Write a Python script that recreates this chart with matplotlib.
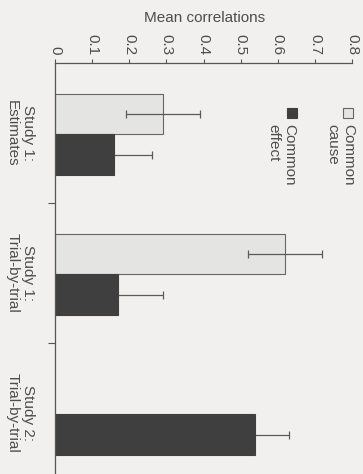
import numpy as np
import matplotlib
matplotlib.use("Agg")
import matplotlib.pyplot as plt
from matplotlib.patches import Rectangle

# -- Data --
categories = ["Study 1:\nEstimates", "Study 1:\nTrial-by-trial", "Study 2:\nTrial-by-trial"]
common_cause = [0.29, 0.62, np.nan]
common_cause_err = [0.10, 0.10, np.nan]
common_effect = [0.16, 0.17, 0.54]
common_effect_err = [0.10, 0.12, 0.09]
ticks = [0, 0.1, 0.2, 0.3, 0.4, 0.5, 0.6, 0.7, 0.8]
tick_labels = ["0", "0.1", "0.2", "0.3", "0.4", "0.5", "0.6", "0.7", "0.8"]

plt.rcParams["font.family"] = ["Liberation Sans", "DejaVu Sans"]
plt.rcParams["font.size"] = 11
text_col = "#4d4d4d"
bg = "#f1f0ee"
light = "#e4e4e2"
dark = "#3f3f3f"

W, H = 363, 474
fig = plt.figure(figsize=(W / 100, H / 100), dpi=100, facecolor=bg)
ax = fig.add_axes([55 / W, 0, 297 / W, 1 - 63 / H])
ax.set_facecolor(bg)

groups = np.arange(len(categories))
h = 0.29
ax.barh(groups + 0.365, common_cause, height=h, color=light, edgecolor="#666666", linewidth=0.8, zorder=2)
ax.barh(groups + 0.655, common_effect, height=h, color=dark, edgecolor=dark, linewidth=0.8, zorder=2)
ax.errorbar(common_cause, groups + 0.365, xerr=common_cause_err, fmt="none",
            ecolor="#5a5a5a", elinewidth=0.9, capsize=3, capthick=0.9, zorder=3)
# drawn beneath the dark bars so only the upper half shows
ax.errorbar(common_effect, groups + 0.655, xerr=common_effect_err, fmt="none",
            ecolor="#5a5a5a", elinewidth=0.9, capsize=3, capthick=0.9, zorder=1)

ax.set_xlim(0, 0.8)
ax.set_ylim(411 / 140, 0)

# value axis on top, labels rotated
ax.xaxis.tick_top()
ax.set_xticks(ticks)
ax.set_xticklabels(tick_labels, rotation=270, color=text_col)
ax.tick_params(axis="x", direction="out", length=3, width=0.8, color="#555555", pad=3)

# group separators as ticks, category names as minor tick labels
ax.set_yticks([1, 2])
ax.set_yticklabels([])
ax.set_yticks(groups + 0.5, minor=True)
ax.set_yticklabels(categories, minor=True, rotation=270, va="center", ha="center",
                   multialignment="center", color=text_col)
ax.tick_params(axis="y", which="major", direction="out", length=5, width=0.8, color="#555555")
ax.tick_params(axis="y", which="minor", length=0, pad=25)

for s in ["right", "bottom"]:
    ax.spines[s].set_visible(False)
for s in ["left", "top"]:
    ax.spines[s].set_color("#555555")
    ax.spines[s].set_linewidth(0.9)

fig.text(205 / W, 1 - 18 / H, "Mean correlations", ha="center", va="center", color=text_col)

# hand-made legend (rotated text)
fig.patches.append(Rectangle((343 / W, 1 - 118 / H), 10 / W, 10 / H, transform=fig.transFigure,
                             facecolor=light, edgecolor="#666666", linewidth=0.8))
fig.patches.append(Rectangle((287 / W, 1 - 118 / H), 10 / W, 10 / H, transform=fig.transFigure,
                             facecolor=dark, edgecolor=dark, linewidth=0.8))
fig.text(340 / W, 1 - 124 / H, "Common\ncause", rotation=270, ha="center", va="top",
         multialignment="left", color=text_col)
fig.text(281 / W, 1 - 124 / H, "Common\neffect", rotation=270, ha="center", va="top",
         multialignment="left", color=text_col)

fig.savefig("out.png", dpi=100, facecolor=bg)
